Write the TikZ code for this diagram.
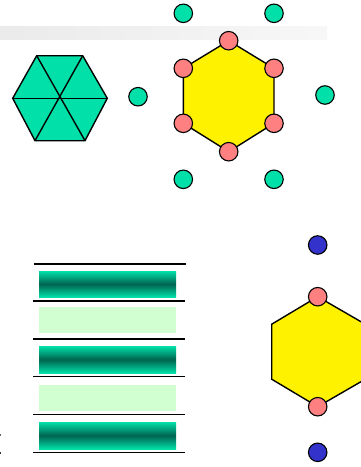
\documentclass[tikz,border=0pt]{standalone}
\definecolor{aqua}{HTML}{00E0A8}
\definecolor{deepaqua}{HTML}{006450}
\definecolor{pinkish}{HTML}{FF8080}
\definecolor{bluish}{HTML}{3333CC}
\definecolor{palegreen}{HTML}{D2FFD2}
\begin{document}
\begin{tikzpicture}[x=1pt,y=-1pt,
  dot/.style={circle,draw=black,line width=1.1pt,minimum size=18.5pt,inner sep=0pt},
  gdot/.style={dot,fill=aqua},
  pdot/.style={dot,fill=pinkish},
  bdot/.style={dot,fill=bluish},
  hexline/.style={draw=black,line width=1.4pt,line join=miter},
  rule/.style={draw=black,line width=1.6pt},
  darkbar/.style={top color=aqua,bottom color=aqua,middle color=deepaqua},
  lightbar/.style={fill=palegreen}]
\useasboundingbox (0,0) rectangle (361,467);
% faded band
\shade[left color=black!8,right color=black!3] (0,26) rectangle (327,39);
% green hexagon
\coordinate (gc) at (60,98.3);
\filldraw[hexline,fill=aqua] (12.7,98.3) -- (36.7,55.7) -- (82.7,55.7) -- (107.3,98.3) -- (85,140.7) -- (35,140.7) -- cycle;
\draw[hexline] (12.7,98.3) -- (107.3,98.3);
\draw[hexline] (36.7,55.7) -- (85,140.7);
\draw[hexline] (82.7,55.7) -- (35,140.7);
% top yellow hexagon
\filldraw[hexline,fill=yellow] (228.7,40.7) -- (274,68.3) -- (274,123.3) -- (228.7,151.7) -- (183.3,123.3) -- (183.3,68.3) -- cycle;
\node[pdot] (p1) at (228.7,40.7) {};
\node[pdot] (p2) at (274,68.3) {};
\node[pdot] (p3) at (274,123.3) {};
\node[pdot] (p4) at (228.7,151.7) {};
\node[pdot] (p5) at (183.3,123.3) {};
\node[pdot] (p6) at (183.3,68.3) {};
% green dots
\node[gdot] (g1) at (183.3,13.3) {};
\node[gdot] (g2) at (274,13.3) {};
\node[gdot] (g3) at (325,95) {};
\node[gdot] (g4) at (274,179.3) {};
\node[gdot] (g5) at (183.3,179.3) {};
\node[gdot] (g6) at (138,96.7) {};
% stacked layers
\draw[rule] (34,264) -- (186,264);
\draw[rule] (33,300.7) -- (185,300.7);
\draw[rule] (33,338.7) -- (185,338.7);
\draw[rule] (33,376.3) -- (185,376.3);
\draw[rule] (33,414.3) -- (185,414.3);
\draw[rule] (33,452.3) -- (185,452.3);
\shade[darkbar] (39,271) rectangle (176,297);
\fill[lightbar] (39,307) rectangle (176,333);
\shade[darkbar] (39,346) rectangle (176,373);
\fill[lightbar] (39,385) rectangle (176,411);
\shade[darkbar] (39,422) rectangle (176,449);
% edge marks
\fill[black!60] (0,434.3) rectangle (1.2,436.3);
\fill[black!80] (0,451.5) rectangle (1.2,453.5);
% bottom right hexagon
\filldraw[hexline,fill=yellow] (317.7,296.7) -- (365.3,324.2) -- (365.3,379.2) -- (317.7,406.7) -- (271.7,379.2) -- (271.7,324.2) -- cycle;
\node[pdot] (q1) at (317.7,296.7) {};
\node[pdot] (q2) at (317.7,406.7) {};
\node[bdot] (b1) at (317.7,245) {};
\node[bdot] (b2) at (317.7,452.3) {};
\end{tikzpicture}
\end{document}
